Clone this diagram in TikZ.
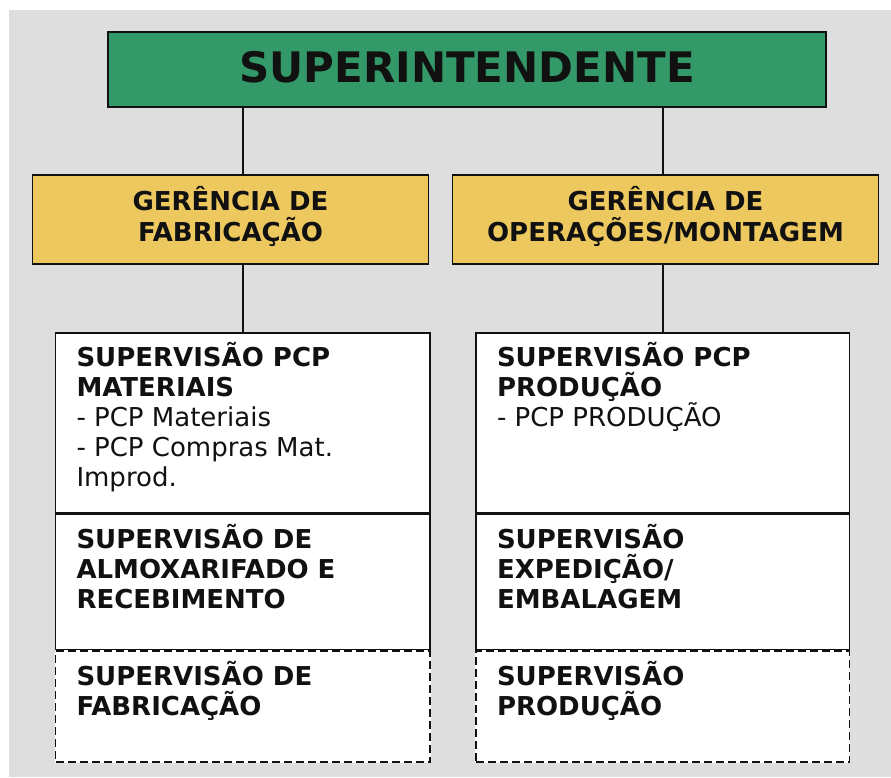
\documentclass[tikz,border=0pt]{standalone}
\usepackage{fontspec}
\setmainfont{DejaVu Sans}
\usetikzlibrary{positioning,backgrounds}
\definecolor{bggray}{RGB}{222,222,222}
\definecolor{supgreen}{RGB}{52,153,104}
\definecolor{geryellow}{RGB}{237,200,95}
\definecolor{ink}{RGB}{17,17,17}

\begin{document}
\begin{tikzpicture}[x=1pt, y=-1pt, line width=1.6pt, draw=ink, text=ink,
    box/.style={draw=ink, rectangle, inner sep=0pt},
    ger/.style={box, fill=geryellow, minimum height=89pt, align=center,
      font=\fontsize{26}{31}\selectfont\bfseries},
    sec/.style={box, anchor=north},
    txt/.style={inner sep=0pt, align=left, font=\fontsize{26}{30}\selectfont}]
  \useasboundingbox (0,0) rectangle (891,777);
  % top levels
  \node[box, fill=supgreen, minimum width=718pt, minimum height=75pt,
    font=\fontsize{42}{42}\selectfont\bfseries] (sup) at (467,69.5)
    {SUPERINTENDENTE\rule[-5pt]{0pt}{1pt}};
  \node[ger, minimum width=396pt] (gfab) at (230.5,219.5)
    {GERÊNCIA DE\\FABRICAÇÃO\rule[-12pt]{0pt}{1pt}};
  \node[ger, minimum width=426pt] (gop) at (665.5,219.5)
    {GERÊNCIA DE\\OPERAÇÕES/MONTAGEM\rule[-12pt]{0pt}{1pt}};
  % supervision columns
  \foreach \a/\b/\c/\x/\w in {pcpmat/almox/fabr/242.75/374.5, pcpprod/exped/prod/662.75/373.5} {
    \node[sec, minimum width=\w pt, minimum height=180pt] (\a) at (\x,332) {};
    \node[sec, minimum width=\w pt, minimum height=135pt, below=0pt of \a] (\b) {};
    \node[sec, dashed, dash pattern=on 8pt off 4pt, minimum width=\w pt, minimum height=111pt,
      below=0pt of \b] (\c) {};
  }
  \begin{scope}[on background layer]
    \fill[bggray] (9,10) rectangle (891,777);
    \fill[white] (pcpmat.north west) rectangle (fabr.south east);
    \fill[white] (pcpprod.north west) rectangle (prod.south east);
  \end{scope}
  % texts
  \node[txt, below right=8pt and 21pt of pcpmat.north west] (tpcpmat)
    {\rule{0pt}{26pt}\textbf{SUPERVISÃO PCP}\\\textbf{MATERIAIS}\\- PCP Materiais\\- PCP Compras Mat.\\Improd.};
  \node[txt, below right=8pt and 21pt of almox.north west] (talmox)
    {\rule{0pt}{26pt}\textbf{SUPERVISÃO DE}\\\textbf{ALMOXARIFADO E}\\\textbf{RECEBIMENTO}};
  \node[txt, below right=8pt and 21pt of fabr.north west] (tfabr)
    {\rule{0pt}{26pt}\textbf{SUPERVISÃO DE}\\\textbf{FABRICAÇÃO}};
  \node[txt, below right=8pt and 21pt of pcpprod.north west] (tpcpprod)
    {\rule{0pt}{26pt}\textbf{SUPERVISÃO PCP}\\\textbf{PRODUÇÃO}\\- PCP PRODUÇÃO};
  \node[txt, below right=8pt and 21pt of exped.north west] (texped)
    {\rule{0pt}{26pt}\textbf{SUPERVISÃO}\\\textbf{EXPEDIÇÃO/}\\\textbf{EMBALAGEM}};
  \node[txt, below right=8pt and 21pt of prod.north west] (tprod)
    {\rule{0pt}{26pt}\textbf{SUPERVISÃO}\\\textbf{PRODUÇÃO}};
  % connectors
  \draw (sup.south -| pcpmat.north) -- (gfab.north -| pcpmat.north);
  \draw (sup.south -| pcpprod.north) -- (gop.north -| pcpprod.north);
  \draw (gfab.south -| pcpmat.north) -- (pcpmat.north);
  \draw (gop.south -| pcpprod.north) -- (pcpprod.north);
\end{tikzpicture}
\end{document}
